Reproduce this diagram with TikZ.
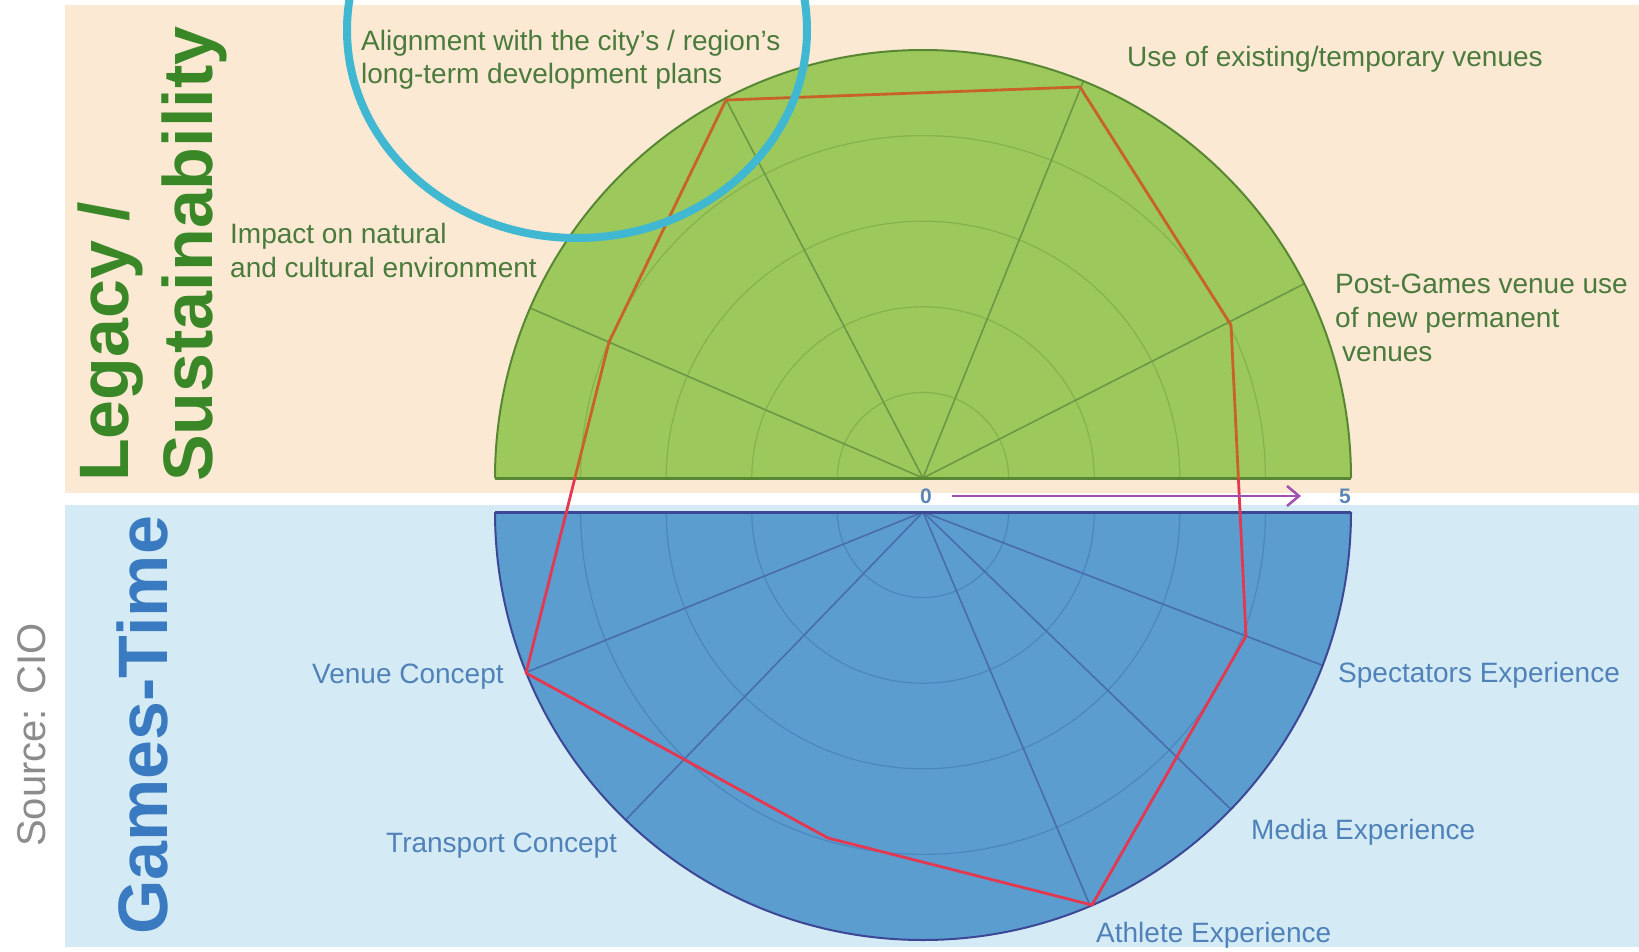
\documentclass[tikz,border=0pt]{standalone}
\usepackage{fontspec}
\setmainfont{Liberation Sans}
\usetikzlibrary{arrows.meta}
\definecolor{peach}{RGB}{251,233,212}
\definecolor{paleblue}{RGB}{212,235,245}
\definecolor{gfill}{RGB}{157,201,92}
\definecolor{gring}{RGB}{132,178,78}
\definecolor{gspoke}{RGB}{108,152,70}
\definecolor{gedge}{RGB}{88,135,52}
\definecolor{bfill}{RGB}{92,157,207}
\definecolor{bring}{RGB}{76,134,190}
\definecolor{bspoke}{RGB}{72,108,172}
\definecolor{bedge}{RGB}{60,72,150}
\definecolor{redtop}{RGB}{200,98,40}
\definecolor{redbot}{RGB}{228,55,80}
\definecolor{titlegreen}{RGB}{58,135,40}
\definecolor{titleblue}{RGB}{58,122,192}
\definecolor{labgreen}{RGB}{74,122,60}
\definecolor{labblue}{RGB}{80,130,185}
\definecolor{axpurple}{RGB}{160,80,176}
\definecolor{cyanring}{RGB}{64,184,210}
\definecolor{srcgray}{RGB}{140,140,140}
\definecolor{ticklab}{RGB}{90,134,184}
\begin{document}
\begin{tikzpicture}[x=1pt,y=-1pt,
  lab/.style={anchor=base west, inner sep=0pt, font=\fontsize{28}{33.6}\selectfont},
  toplab/.style={lab, text=labgreen},
  botlab/.style={lab, text=labblue},
  bigtitle/.style={rotate=90, anchor=base west, inner sep=0pt, font=\fontsize{70}{84}\selectfont\bfseries},
  ring/.style={line width=1.2pt},
  spoke/.style={line width=1.6pt},
  tick/.style={inner sep=0pt, font=\fontsize{21}{24}\selectfont\bfseries, text=ticklab}]
\useasboundingbox (0,0) rectangle (1639,951);
\clip (0,0) rectangle (1639,951);
\fill[white] (0,0) rectangle (1639,951);
\fill[peach] (65,5) rectangle (1639,493);
\fill[paleblue] (65,505) rectangle (1639,947);

% top (legacy) half-radar
\begin{scope}[shift={(923,478)}]
  \fill[gfill] (-428,0) arc[start angle=180,end angle=360,radius=428] -- cycle;
  \foreach \r in {85.6,171.2,256.8,342.4}
    \draw[gring,ring] (-\r,0) arc[start angle=180,end angle=360,radius=\r];
  \foreach \a in {-156.6,-117.5,-68,-27}
    \draw[gspoke,spoke] (0,0) -- (\a:428);
  \draw[gedge,line width=2pt] (-428,0) arc[start angle=180,end angle=360,radius=428];
  \draw[gedge,line width=3pt] (-428,0) -- (428,0);
\end{scope}

% bottom (games-time) half-radar
\begin{scope}[shift={(923,512)}]
  \fill[bfill] (-428,0) arc[start angle=180,end angle=0,radius=428] -- cycle;
  \foreach \r in {85.6,171.2,256.8,342.4}
    \draw[bring,ring] (-\r,0) arc[start angle=180,end angle=0,radius=\r];
  \foreach \a in {158,134,67,44,21}
    \draw[bspoke,spoke] (0,0) -- (\a:428);
  \draw[bedge,line width=2pt] (-428,0) arc[start angle=180,end angle=0,radius=428];
  \draw[bedge,line width=3pt] (-428,0) -- (428,0);
\end{scope}

% score polygon
\coordinate (pImpact) at (609,342);
\coordinate (pAlign) at (726,100);
\coordinate (pUse) at (1080,87);
\coordinate (pPost) at (1231,325);
\coordinate (pSpec) at (1246,636);
\coordinate (pAth) at (1092,905);
\coordinate (pTrans) at (828,838);
\coordinate (pVenue) at (526,673);
\begin{scope}
  \clip (0,0) rectangle (1639,478);
  \draw[redtop,line width=2.8pt,line join=round] (pImpact) -- (pAlign) -- (pUse) -- (pPost) -- (pSpec) -- (pAth) -- (pTrans) -- (pVenue) -- cycle;
\end{scope}
\begin{scope}
  \clip (0,478) rectangle (1639,951);
  \draw[redbot,line width=2.8pt,line join=round] (pImpact) -- (pAlign) -- (pUse) -- (pPost) -- (pSpec) -- (pAth) -- (pTrans) -- (pVenue) -- cycle;
\end{scope}

% scale axis
\node[tick] (zero) at (926,496) {0};
\node[tick] (five) at (1345,496) {5};
\draw[axpurple,line width=2.5pt,shorten <=20pt,shorten >=38pt,-{Straight Barb[length=12pt,width=20pt,line width=2.5pt]}] (zero.east) -- (five.west);

% highlight ellipse
\draw[cyanring,line width=8pt] (577,30) ellipse[x radius=230,y radius=208];

% labels (top)
\node[toplab] (al1) at (361,50) {Alignment with the city’s / region’s};
\node[toplab] (al2) at (361,83) {long-term development plans};
\node[toplab] (im1) at (230,243) {Impact on natural};
\node[toplab] (im2) at (230,277) {and cultural environment};
\node[toplab] (use) at (1127,66) {Use of existing/temporary venues};
\node[toplab] (po1) at (1335,293) {Post-Games venue use};
\node[toplab] (po2) at (1335,327) {of new permanent};
\node[toplab] (po3) at (1342,361) {venues};

% labels (bottom)
\node[botlab] (venue) at (312,683) {Venue Concept};
\node[botlab] (trans) at (386,852) {Transport Concept};
\node[botlab] (spec) at (1338,682) {Spectators Experience};
\node[botlab] (media) at (1251,839) {Media Experience};
\node[botlab] (ath) at (1096,942) {Athlete Experience};

% titles
\node[bigtitle,text=titlegreen] (legacy) at (128,482) {Legacy /};
\node[bigtitle,text=titlegreen] (sust) at (212,482) {Sustainability};
\node[bigtitle,text=titleblue] (games) at (167,935) {Games-Time};
\node[rotate=90,anchor=base west,inner sep=0pt,font=\fontsize{40}{48}\selectfont,text=srcgray] (source) at (45,847) {Source: CIO};
\end{tikzpicture}
\end{document}
